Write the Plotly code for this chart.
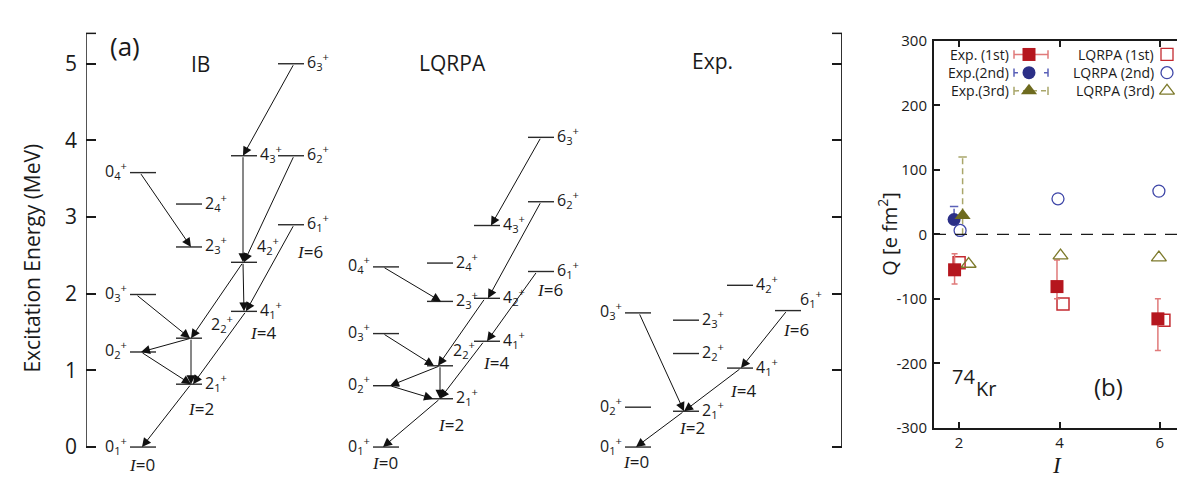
import plotly.graph_objects as go

# ---------------- DATA ----------------
# Panel (a): level energies (MeV); names are "spin_index"
LEVEL_NAMES = ["0_1", "2_1", "4_1", "6_1", "0_2", "2_2", "4_2", "6_2",
               "0_3", "2_3", "4_3", "6_3", "0_4", "2_4"]
IB_E = [0.00, 0.82, 1.77, 2.90, 1.24, 1.42, 2.41, 3.80,
        1.99, 2.61, 3.80, 5.00, 3.58, 3.17]
LQRPA_E = [0.00, 0.63, 1.38, 2.29, 0.80, 1.06, 1.94, 3.20,
           1.48, 1.90, 2.89, 4.04, 2.35, 2.40]
EXP_NAMES = ["0_1", "2_1", "4_1", "6_1", "0_2", "2_2", "4_2", "0_3", "2_3"]
EXP_E = [0.00, 0.467, 1.03, 1.78, 0.52, 1.22, 2.11, 1.75, 1.655]

# transitions (from, to)
IB_TRANS = [("6_3", "4_3"), ("0_4", "2_3"), ("4_3", "4_2"), ("6_2", "4_2"),
            ("4_2", "2_2"), ("4_2", "4_1"), ("6_1", "4_1"), ("4_1", "2_1"),
            ("2_2", "2_1"), ("0_3", "2_2"), ("2_2", "0_2"), ("0_2", "2_1"),
            ("2_1", "0_1")]
LQRPA_TRANS = [("6_3", "4_3"), ("6_2", "4_2"), ("6_1", "4_1"), ("0_4", "2_3"),
               ("4_2", "2_2"), ("0_3", "2_2"), ("4_1", "2_1"), ("2_2", "2_1"),
               ("2_2", "0_2"), ("0_2", "2_1"), ("2_1", "0_1")]
EXP_TRANS = [("0_3", "2_1"), ("6_1", "4_1"), ("4_1", "2_1"), ("2_1", "0_1")]

ENERGY_TICKS = [0, 1, 2, 3, 4, 5]

# Panel (b): spectroscopic quadrupole moments Q [e fm^2]
I_VALUES = [2, 4, 6]
EXP1_Q = [-55, -81, -131]
EXP1_ERR_PLUS = [25, 41, 31]
EXP1_ERR_MINUS = [22, 19, 49]
EXP2_I = [2]
EXP2_Q = [23]
EXP2_ERR_PLUS = [20]
EXP2_ERR_MINUS = [8]
EXP3_I = [2]
EXP3_Q = [29]
EXP3_ERR_PLUS = [91]
EXP3_ERR_MINUS = [29]
LQRPA1_Q = [-44, -108, -133]
LQRPA2_Q = [6, 55, 67]
LQRPA3_Q = [-46, -33, -36]
Q_TICKS = [-300, -200, -100, 0, 100, 200, 300]

# ---------------- LAYOUT / STYLE ----------------
W, H = 1185, 479
PX_ZERO = 446.7        # pixel row of E = 0
PX_PER_MEV = 80.0
E_BOT = -(H - PX_ZERO) / PX_PER_MEV
E_TOP = PX_ZERO / PX_PER_MEV
E_AX_TOP = (PX_ZERO - 15) / PX_PER_MEV
AX_L, AX_R = 78, 834
LW = 26  # level width (px units on x axis)

COLS = {
    "IB": {0: 122, 2: 168, 4: 223, 6: 270},
    "LQRPA": {0: 365, 2: 419, 4: 466, 6: 520},
    "Exp": {0: 617, 2: 665, 4: 719, 6: 767},
}
# arrow x positions (tail, tip) in px units, same order as transitions
ARROW_X = {
    "IB": [(286, 235), (132, 183), (235, 235), (286, 236), (235, 183), (235, 236),
           (286, 238), (238, 185), (183, 183), (128, 182), (183, 133), (133, 183),
           (183, 134)],
    "LQRPA": [(533, 483), (533, 480), (529, 479), (375, 433), (477, 430), (375, 426),
              (476, 432), (432, 432), (432, 382), (382, 425), (432, 375)],
    "Exp": [(631, 676), (779, 733), (733, 676), (676, 628)],
}
LABEL_SHIFT = {("IB", "4_2"): (-3, 15), ("IB", "2_2"): (6, 13),
               ("LQRPA", "2_2"): (-3, 14), ("Exp", "6_1"): (-4, 10)}
# I-label offsets (dx from level left edge, dy px below level)
ILAB = {
    "IB": {"0_1": (12, 17), "2_1": (25, 24), "4_1": (32, 21), "6_1": (32, 27)},
    "LQRPA": {"0_1": (12, 15), "2_1": (24, 26), "4_1": (22, 21), "6_1": (22, 18)},
    "Exp": {"0_1": (11, 14), "2_1": (19, 16), "4_1": (16, 22), "6_1": (21, 19)},
}

FONT = "Open Sans, Lato, sans-serif"
SERIF = "Liberation Serif, DejaVu Serif, serif"
INK = "#1a1a1a"

RED = "#b5161e"
RED_ERR = "#e07a7a"
RED_OPEN = "#c42a30"
BLUE = "#2b2f87"
BLUE_OPEN = "#3f47a8"
OLIVE = "#6e6b1f"
OLIVE_OPEN = "#7d7a2c"

fig = go.Figure()

# ---------------- panel (a) ----------------
panels = [("IB", LEVEL_NAMES, IB_E, IB_TRANS),
          ("LQRPA", LEVEL_NAMES, LQRPA_E, LQRPA_TRANS),
          ("Exp", EXP_NAMES, EXP_E, EXP_TRANS)]

annotations = []


def lev_label(name):
    j, n = name.split("_")
    return f"{j}<sub>{n}</sub><sup>+</sup>"


for pname, names, energies, trans in panels:
    emap = dict(zip(names, energies))
    xs, ys = [], []
    for nm, e in zip(names, energies):
        spin = int(nm.split("_")[0])
        x0 = COLS[pname][spin]
        xs += [x0, x0 + LW, None]
        ys += [e, e, None]
        dx, dy = LABEL_SHIFT.get((pname, nm), (0, 0))
        if spin == 0:
            annotations.append(dict(x=x0 - 1, y=e, xref="x", yref="y", text=lev_label(nm),
                                    showarrow=False, xanchor="right", yanchor="middle",
                                    xshift=dx, yshift=dy + 2,
                                    font=dict(family=FONT, size=16, color=INK)))
        else:
            annotations.append(dict(x=x0 + LW + 1, y=e, xref="x", yref="y", text=lev_label(nm),
                                    showarrow=False, xanchor="left", yanchor="middle",
                                    xshift=dx, yshift=dy + 2,
                                    font=dict(family=FONT, size=16, color=INK)))
        if nm in ILAB[pname]:
            ddx, ddy = ILAB[pname][nm]
            annotations.append(dict(x=x0 + ddx, y=e, xref="x", yref="y",
                                    text=f'<span style="font-family:{SERIF}"><i>I</i></span>={spin}',
                                    showarrow=False, xanchor="center", yanchor="middle",
                                    yshift=-ddy, font=dict(family=FONT, size=17, color=INK)))
    fig.add_trace(go.Scatter(x=xs, y=ys, mode="lines", line=dict(color="#2a2a2a", width=1.4),
                             xaxis="x", yaxis="y", hoverinfo="skip", cliponaxis=False))
    for (fr, to), (xt, xh) in zip(trans, ARROW_X[pname]):
        annotations.append(dict(x=xh, y=emap[to], ax=xt, ay=emap[fr], xref="x", yref="y",
                                axref="x", ayref="y", text="", showarrow=True,
                                arrowhead=2, arrowsize=1.8, arrowwidth=1, arrowcolor="#111",
                                standoff=0, startstandoff=0))

# ---------------- panel (b) ----------------
EXP1_DX, LQ1_DX = [-0.09, -0.05, -0.04], [0.0, 0.07, 0.08]
EXP2_DX, LQ2_DX = [-0.1], [0.02, -0.03, -0.02]
EXP3_DX, LQ3_DX = [0.07], [0.19, 0.02, -0.02]

x_e1 = [i + d for i, d in zip(I_VALUES, EXP1_DX)]
x_l1 = [i + d for i, d in zip(I_VALUES, LQ1_DX)]
x_e2 = [i + d for i, d in zip(EXP2_I, EXP2_DX)]
x_l2 = [i + d for i, d in zip(I_VALUES, LQ2_DX)]
x_e3 = [i + d for i, d in zip(EXP3_I, EXP3_DX)]
x_l3 = [i + d for i, d in zip(I_VALUES, LQ3_DX)]


def dashed_err(xv, qv, plus, minus, color):
    xx, yy = [], []
    for x, q, p, m in zip(xv, qv, plus, minus):
        xx += [x, x, None]
        yy += [q - m, q + p, None]
    fig.add_trace(go.Scatter(x=xx, y=yy, mode="lines", xaxis="x2", yaxis="y2",
                             line=dict(color=color, width=1.5, dash="6px,4px"), hoverinfo="skip"))
    fig.add_trace(go.Scatter(x=list(xv), y=[q + p for q, p in zip(qv, plus)], mode="markers",
                             xaxis="x2", yaxis="y2", hoverinfo="skip",
                             marker=dict(symbol="line-ew", size=6,
                                         line=dict(color=color, width=1.5))))


fig.add_trace(go.Scatter(x=x_l1, y=LQRPA1_Q, mode="markers", xaxis="x2", yaxis="y2",
                         marker=dict(symbol="square-open", size=12,
                                     line=dict(color=RED_OPEN, width=1.5), color=RED_OPEN)))
fig.add_trace(go.Scatter(x=x_e1, y=EXP1_Q, mode="markers", xaxis="x2", yaxis="y2",
                         error_y=dict(type="data", array=EXP1_ERR_PLUS, arrayminus=EXP1_ERR_MINUS,
                                      color=RED_ERR, thickness=1.5, width=3),
                         marker=dict(symbol="square", size=13, color=RED)))
dashed_err(x_e2, EXP2_Q, EXP2_ERR_PLUS, EXP2_ERR_MINUS, "#5a60b8")
dashed_err(x_e3, EXP3_Q, EXP3_ERR_PLUS, EXP3_ERR_MINUS, "#a9a66a")
fig.add_trace(go.Scatter(x=x_l2, y=LQRPA2_Q, mode="markers", xaxis="x2", yaxis="y2",
                         marker=dict(symbol="circle-open", size=12,
                                     line=dict(color=BLUE_OPEN, width=1.3), color=BLUE_OPEN)))
fig.add_trace(go.Scatter(x=x_e2, y=EXP2_Q, mode="markers", xaxis="x2", yaxis="y2",
                         marker=dict(symbol="circle", size=13, color=BLUE)))
fig.add_trace(go.Scatter(x=x_e3, y=EXP3_Q, mode="markers", xaxis="x2", yaxis="y2",
                         marker=dict(symbol="triangle-up", size=14, color=OLIVE)))
fig.add_trace(go.Scatter(x=x_l3, y=LQRPA3_Q, mode="markers", xaxis="x2", yaxis="y2",
                         marker=dict(symbol="triangle-up-open", size=13,
                                     line=dict(color=OLIVE_OPEN, width=1.3), color=OLIVE_OPEN)))

# ---------------- legend (overlay pixel axes x3/y3) ----------------
LEG_ROWS = [37, 56, 75]
LEG_EXP_TXT = ["Exp. (1st)", "Exp.(2nd)", "Exp.(3rd)"]
LEG_LQ_TXT = ["LQRPA (1st)", "LQRPA (2nd)", "LQRPA (3rd)"]
LEG_DASH = ["solid", "4px,26px", "5px,4px"]
LEG_ERRC = [RED_ERR, "#5a60b8", "#a9a66a"]
LEG_SYM = [("square", RED, 13), ("circle", BLUE, 13), ("triangle-up", OLIVE, 14)]
LEG_OSYM = [("square-open", RED_OPEN, 12), ("circle-open", BLUE_OPEN, 12),
            ("triangle-up-open", OLIVE_OPEN, 13)]
for k, yrow in enumerate(LEG_ROWS):
    fig.add_trace(go.Scatter(x=[1006, 1040], y=[yrow, yrow], mode="lines", xaxis="x3", yaxis="y3",
                             line=dict(color=LEG_ERRC[k], width=1.5, dash=LEG_DASH[k]),
                             hoverinfo="skip", cliponaxis=False))
    fig.add_trace(go.Scatter(x=[1006, 1040], y=[yrow, yrow], mode="markers", xaxis="x3", yaxis="y3",
                             marker=dict(symbol="line-ns", size=6, line=dict(color=LEG_ERRC[k], width=1.5)),
                             hoverinfo="skip", cliponaxis=False))
    s, c, sz = LEG_SYM[k]
    fig.add_trace(go.Scatter(x=[1021], y=[yrow], mode="markers", xaxis="x3", yaxis="y3",
                             marker=dict(symbol=s, size=sz, color=c), hoverinfo="skip", cliponaxis=False))
    s, c, sz = LEG_OSYM[k]
    fig.add_trace(go.Scatter(x=[1159], y=[yrow], mode="markers", xaxis="x3", yaxis="y3",
                             marker=dict(symbol=s, size=sz, color=c, line=dict(color=c, width=1.3)),
                             hoverinfo="skip", cliponaxis=False))
    annotations.append(dict(x=1002 / W, y=1 - yrow / H, xref="paper", yref="paper",
                            text=LEG_EXP_TXT[k], showarrow=False, xanchor="right", yanchor="middle",
                            borderpad=0, font=dict(family=FONT, size=14, color=INK)))
    annotations.append(dict(x=1147 / W, y=1 - yrow / H, xref="paper", yref="paper",
                            text=LEG_LQ_TXT[k], showarrow=False, xanchor="right", yanchor="middle",
                            borderpad=0, font=dict(family=FONT, size=14, color=INK)))


def ptext(px, py, text, size, **kw):
    d = dict(x=px / W, y=1 - py / H, xref="paper", yref="paper", text=text, showarrow=False,
             xanchor="center", yanchor="middle", font=dict(family=kw.pop("family", FONT), size=size, color=INK))
    d.update(kw)
    annotations.append(d)


ptext(117, 28, "(a)", 26)
ptext(192, 47, "IB", 21)
ptext(444, 46, "LQRPA", 21)
ptext(705, 44, "Exp.", 21)
ptext(24, 250, "Excitation Energy (MeV)", 21, textangle=-90)
ptext(1100, 384, "(b)", 24)
ptext(955, 373, "74", 20)
ptext(978, 386, "Kr", 20)
ptext(880, 224, "Q [e fm<sup>2</sup>]", 20, textangle=-90)
ptext(1049, 466, "<i>I</i>", 23, family=SERIF)

# ---------------- axes ----------------
qd0 = (H - 426.7) / H
qd1 = (H - 22.7) / H
fig.update_layout(
    width=W, height=H, margin=dict(l=0, r=0, t=0, b=0),
    paper_bgcolor="white", plot_bgcolor="rgba(0,0,0,0)", showlegend=False,
    xaxis=dict(domain=[AX_L / W, AX_R / W], range=[AX_L, AX_R], visible=False, fixedrange=True),
    yaxis=dict(domain=[0, 1], range=[E_BOT, E_TOP], anchor="x", tickvals=ENERGY_TICKS,
               ticks="inside", ticklen=10, tickwidth=1.5, tickcolor=INK, mirror="ticks",
               showline=False, showgrid=False, zeroline=False, ticklabelstandoff=8,
               tickfont=dict(family=FONT, size=21, color=INK)),
    xaxis2=dict(domain=[926 / W, 1177 / W], range=[1.5, 6.5], anchor="y2", tickvals=I_VALUES,
                ticks="inside", ticklen=6, tickwidth=1.5, tickcolor=INK, mirror="ticks",
                showline=True, linewidth=2, linecolor=INK, showgrid=False, zeroline=False,
                tickfont=dict(family=FONT, size=15, color=INK)),
    yaxis2=dict(domain=[qd0, qd1], range=[-300, 300], anchor="x2", tickvals=Q_TICKS,
                ticktext=[str(v) for v in Q_TICKS],
                ticks="inside", ticklen=6, tickwidth=1.5, tickcolor=INK, mirror="ticks",
                showline=True, linewidth=2, linecolor=INK, showgrid=False, zeroline=False,
                ticklabelstandoff=2, tickfont=dict(family=FONT, size=15, color=INK)),
    xaxis3=dict(domain=[0, 1], range=[0, W], anchor="y3", visible=False, fixedrange=True),
    yaxis3=dict(domain=[0, 1], range=[H, 0], anchor="x3", visible=False, fixedrange=True),
    annotations=annotations,
)

shapes = [
    dict(type="line", xref="x", yref="y", x0=AX_L, x1=AX_L, y0=0, y1=E_AX_TOP, line=dict(color=INK, width=1.5)),
    dict(type="line", xref="x", yref="y", x0=AX_L, x1=AX_L + 10, y0=E_AX_TOP, y1=E_AX_TOP, line=dict(color=INK, width=1.5)),
    dict(type="line", xref="x", yref="y", x0=AX_R, x1=AX_R, y0=0, y1=E_AX_TOP, line=dict(color=INK, width=1.8)),
    dict(type="line", xref="x", yref="y", x0=AX_R - 10, x1=AX_R, y0=E_AX_TOP, y1=E_AX_TOP, line=dict(color=INK, width=1.5)),
    dict(type="line", xref="x2", yref="y2", x0=1.5, x1=6.5, y0=0, y1=0, line=dict(color=INK, width=1.3, dash="12px,9px")),
]
fig.update_layout(shapes=shapes)

fig.write_html("out.html")
